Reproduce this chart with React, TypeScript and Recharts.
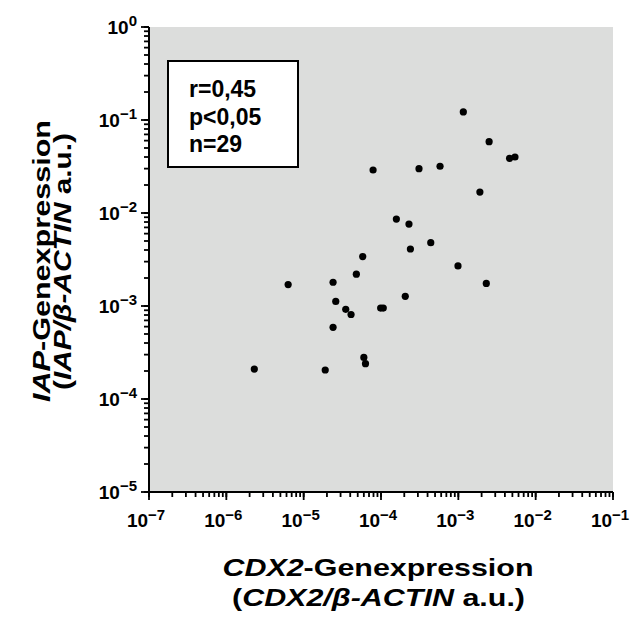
import React from 'react';
import { ScatterChart, Scatter, XAxis, YAxis, ReferenceArea } from 'recharts';

// CDX2 / β-ACTIN (x) vs IAP / β-ACTIN (y), n = 29
const cdx2Values = [
  7.9e-5, 5.8e-5, 4.8e-5, 6.3e-6, 2.4e-5, 2.6e-5, 3.5e-5, 4.1e-5, 9.9e-5, 1.07e-4,
  2.4e-5, 6.0e-5, 6.3e-5, 2.3e-6, 1.9e-5, 1.16e-3, 2.5e-3, 4.6e-3, 5.4e-3, 3.1e-4,
  5.8e-4, 1.9e-3, 1.58e-4, 2.3e-4, 4.4e-4, 2.4e-4, 9.9e-4, 2.3e-3, 2.06e-4,
];
const iapValues = [
  0.029, 3.4e-3, 2.2e-3, 1.7e-3, 1.8e-3, 1.12e-3, 9.2e-4, 8.1e-4, 9.5e-4, 9.5e-4,
  5.9e-4, 2.8e-4, 2.4e-4, 2.1e-4, 2.05e-4, 0.122, 0.0585, 0.0387, 0.04, 0.030,
  0.0318, 0.0168, 8.6e-3, 7.6e-3, 4.8e-3, 4.1e-3, 2.7e-3, 1.75e-3, 1.27e-3,
];

const xTickExponents = [-7, -6, -5, -4, -3, -2, -1];
const yTickExponents = [-5, -4, -3, -2, -1, 0];
const statsLines = ['r=0,45', 'p<0,05', 'n=29'];

const data = cdx2Values.map((x, i) => ({ x, y: iapValues[i] }));

const withMinor = (exps: number[]) => {
  const out: number[] = [];
  exps.forEach((e, i) => {
    out.push(Math.pow(10, e));
    if (i < exps.length - 1) {
      for (let k = 2; k <= 9; k++) out.push(k * Math.pow(10, e));
    }
  });
  return out;
};
const xTicks = withMinor(xTickExponents);
const yTicks = withMinor(yTickExponents);

const FONT = '"Liberation Sans", Arial, Helvetica, sans-serif';
const MINOR = 5;
const MAJOR = 8;

const isMajor = (v: number) => {
  const l = Math.log10(v);
  return Math.abs(l - Math.round(l)) < 1e-6;
};
const expLabel = (v: number) => {
  const e = Math.round(Math.log10(v));
  return e < 0 ? '\u2212' + String(-e) : String(e);
};

const XTick = (props: any) => {
  const { x, y, payload } = props;
  const v = payload.value;
  if (!isMajor(v)) return <g />;
  const axisY = y - MINOR;
  return (
    <g>
      <line x1={x} x2={x} y1={axisY} y2={axisY + MAJOR} stroke="#000" strokeWidth={1.8} />
      <text x={x - 3} y={axisY + 35} textAnchor="middle" fontFamily={FONT} fontWeight="bold" fontSize={19} fill="#000">
        10<tspan dy={-7.5} fontSize={15}>{expLabel(v)}</tspan>
      </text>
    </g>
  );
};

const YTick = (props: any) => {
  const { x, y, payload } = props;
  const v = payload.value;
  if (!isMajor(v)) return <g />;
  const axisX = x + MINOR;
  return (
    <g>
      <line x1={axisX} x2={axisX - MAJOR} y1={y} y2={y} stroke="#000" strokeWidth={1.8} />
      <text x={axisX - 12} y={y + 6.5} textAnchor="end" fontFamily={FONT} fontWeight="bold" fontSize={19} fill="#000">
        10<tspan dy={-7.5} fontSize={15}>{expLabel(v)}</tspan>
      </text>
    </g>
  );
};

const Overlay = () => (
  <svg
    width={632}
    height={620}
    style={{ position: 'absolute', left: 0, top: 0, pointerEvents: 'none' }}
  >
    <g fontFamily={FONT} fontWeight="bold" fill="#000">
      <rect x={168} y={61} width={130} height={106} fill="#fff" stroke="#000" strokeWidth={2} />
      {statsLines.map((s, i) => (
        <text key={s} x={189} y={97 + i * 27.7} fontSize={23}>{s}</text>
      ))}
      <text x={378} y={576} textAnchor="middle" fontSize={24} textLength={311} lengthAdjust="spacingAndGlyphs">
        <tspan fontStyle="italic">CDX2</tspan>-Genexpression
      </text>
      <text x={378.5} y={606} textAnchor="middle" fontSize={24} textLength={293} lengthAdjust="spacingAndGlyphs">
        (<tspan fontStyle="italic">CDX2/β-ACTIN</tspan> a.u.)
      </text>
      <text x={50} y={261} textAnchor="middle" fontSize={24.5} textLength={282} lengthAdjust="spacingAndGlyphs" transform="rotate(-90 50 261)">
        <tspan fontStyle="italic">IAP</tspan>-Genexpression
      </text>
      <text x={71} y={261.5} textAnchor="middle" fontSize={24.5} textLength={257} lengthAdjust="spacingAndGlyphs" transform="rotate(-90 71 261.5)">
        (<tspan fontStyle="italic">IAP/β-ACTIN</tspan> a.u.)
      </text>
    </g>
  </svg>
);

const Dot = (props: any) => <circle cx={props.cx} cy={props.cy} r={3.6} fill="#000" />;

export default function App() {
  return (
    <div style={{ position: 'absolute', left: 0, top: 0, width: 632, height: 620, background: '#fff' }}>
      <ScatterChart width={632} height={620} margin={{ top: 27, right: 19, bottom: 0, left: 0 }}>
        <ReferenceArea x1={1e-7} x2={1e-1} y1={1e-5} y2={1} fill="#dcdddc" fillOpacity={1} stroke="none" />
        <XAxis
          dataKey="x"
          type="number"
          scale="log"
          domain={[1e-7, 1e-1]}
          allowDataOverflow
          ticks={xTicks}
          interval={0}
          height={128}
          stroke="#000"
          tickSize={MINOR}
          tickMargin={0}
          tickLine={{ stroke: '#000', strokeWidth: 1.8 }}
          axisLine={{ stroke: '#000', strokeWidth: 2 }}
          tick={<XTick />}
        />
        <YAxis
          dataKey="y"
          type="number"
          scale="log"
          domain={[1e-5, 1]}
          allowDataOverflow
          ticks={yTicks}
          interval={0}
          width={149}
          stroke="#000"
          tickSize={MINOR}
          tickMargin={0}
          tickLine={{ stroke: '#000', strokeWidth: 1.8 }}
          axisLine={{ stroke: '#000', strokeWidth: 2 }}
          tick={<YTick />}
        />
        <Scatter data={data} fill="#000" shape={<Dot />} isAnimationActive={false} />
      </ScatterChart>
      <Overlay />
    </div>
  );
}
